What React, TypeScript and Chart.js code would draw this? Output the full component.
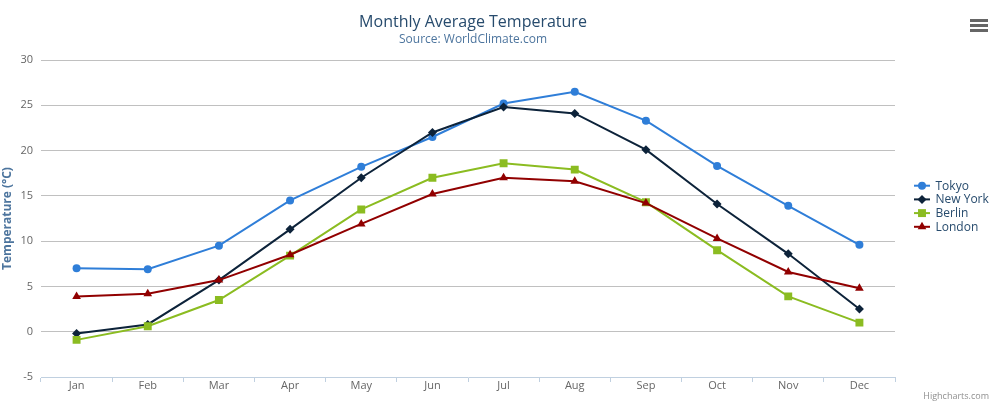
import React, { useEffect, useRef } from "react";
import { Chart, registerables } from "chart.js";

Chart.register(...registerables);

const categories = ["Jan", "Feb", "Mar", "Apr", "May", "Jun", "Jul", "Aug", "Sep", "Oct", "Nov", "Dec"];
const tokyo = [7.0, 6.9, 9.5, 14.5, 18.2, 21.5, 25.2, 26.5, 23.3, 18.3, 13.9, 9.6];
const newYork = [-0.2, 0.8, 5.7, 11.3, 17.0, 22.0, 24.8, 24.1, 20.1, 14.1, 8.6, 2.5];
const berlin = [-0.9, 0.6, 3.5, 8.4, 13.5, 17.0, 18.6, 17.9, 14.3, 9.0, 3.9, 1.0];
const london = [3.9, 4.2, 5.7, 8.5, 11.9, 15.2, 17.0, 16.6, 14.2, 10.3, 6.6, 4.8];
const seriesNames = ["Tokyo", "New York", "Berlin", "London"];
const seriesValues = [tokyo, newYork, berlin, london];
const seriesColors = ["#2f7ed8", "#0d233a", "#8bbc21", "#910000"];
const seriesMarkers = ["circle", "rectRot", "rect", "triangle"];
const markerRadii = [4, 4.5, 5.6, 5];
const yMin = -5;
const yMax = 30;
const yStep = 5;
const titleText = "Monthly Average Temperature";
const subtitleText = "Source: WorldClimate.com";
const yAxisTitle = "Temperature (°C)";
const creditsText = "Highcharts.com";

const FONT = '"Lucida Grande", "Lucida Sans Unicode", "Open Sans", Verdana, sans-serif';

function drawMarker(ctx: CanvasRenderingContext2D, style: string, x: number, y: number, r: number, color: string) {
  ctx.save();
  ctx.fillStyle = color;
  ctx.beginPath();
  if (style === "circle") {
    ctx.arc(x, y, r, 0, Math.PI * 2);
  } else if (style === "rectRot") {
    ctx.moveTo(x, y - r);
    ctx.lineTo(x + r, y);
    ctx.lineTo(x, y + r);
    ctx.lineTo(x - r, y);
    ctx.closePath();
  } else if (style === "rect") {
    const s = r * Math.SQRT1_2;
    ctx.rect(x - s, y - s, 2 * s, 2 * s);
  } else {
    const h = r;
    ctx.moveTo(x, y - h);
    ctx.lineTo(x + Math.sin(Math.PI * 2 / 3) * h, y + h / 2);
    ctx.lineTo(x - Math.sin(Math.PI * 2 / 3) * h, y + h / 2);
    ctx.closePath();
  }
  ctx.fill();
  ctx.restore();
}

const decorPlugin = {
  id: "decor",
  afterDraw(chart: any) {
    const ctx: CanvasRenderingContext2D = chart.ctx;
    ctx.save();
    // title & subtitle
    ctx.textAlign = "center";
    ctx.textBaseline = "middle";
    ctx.fillStyle = "#274b6d";
    ctx.font = `16px ${FONT}`;
    ctx.fillText(titleText, 473, 22);
    ctx.fillStyle = "#4d759e";
    ctx.font = `12px ${FONT}`;
    ctx.fillText(subtitleText, 473, 40);

    // legend
    ctx.textAlign = "left";
    ctx.font = `12px ${FONT}`;
    seriesNames.forEach((name, i) => {
      const y = 185.7 + i * 13.7;
      ctx.strokeStyle = seriesColors[i];
      ctx.lineWidth = 2;
      ctx.beginPath();
      ctx.moveTo(914, y);
      ctx.lineTo(930, y);
      ctx.stroke();
      drawMarker(ctx, seriesMarkers[i], 922, y, markerRadii[i], seriesColors[i]);
      ctx.fillStyle = "#274b6d";
      ctx.fillText(name, 935.5, y + 0.5);
    });

    // menu icon
    ctx.fillStyle = "#666666";
    [19, 24, 29].forEach((y) => ctx.fillRect(970, y, 18, 3));

    // credits
    ctx.textAlign = "right";
    ctx.textBaseline = "alphabetic";
    ctx.fillStyle = "#909090";
    ctx.font = `9px ${FONT}`;
    ctx.fillText(creditsText, 989, 398.5);
    ctx.restore();
  },
};

export default function App() {
  const ref = useRef<HTMLCanvasElement>(null);
  useEffect(() => {
    if (!ref.current) return;
    Chart.defaults.font.family = FONT;
    const chart = new Chart(ref.current, {
      type: "line",
      data: {
        labels: categories,
        datasets: seriesValues.map((vals, i) => ({
          label: seriesNames[i],
          data: vals,
          borderColor: seriesColors[i],
          backgroundColor: seriesColors[i],
          pointBackgroundColor: seriesColors[i],
          pointBorderWidth: 0,
          pointRadius: markerRadii[i],
          pointStyle: seriesMarkers[i] as any,
          borderWidth: 2,
          tension: 0,
          fill: false,
          order: 3 - i,
        })),
      },
      options: {
        responsive: false,
        animation: false,
        layout: { padding: { top: 60, right: 110, left: 0, bottom: 0 } },
        plugins: {
          legend: { display: false },
          title: { display: false },
          tooltip: { enabled: false },
        },
        scales: {
          x: {
            type: "category",
            offset: true,
            afterFit(scale: any) {
              scale.height = 42;
            },
            grid: {
              offset: true,
              drawOnChartArea: false,
              drawTicks: true,
              tickLength: 5,
              color: "#C0D0E0",
            },
            border: { color: "#C0D0E0", width: 1 },
            ticks: {
              color: "#666666",
              font: { size: 11, family: FONT },
              padding: -3,
              maxRotation: 0,
            },
          },
          y: {
            min: yMin,
            max: yMax,
            afterFit(scale: any) {
              scale.width = 41;
            },
            ticks: {
              stepSize: yStep,
              color: "#666666",
              font: { size: 11, family: FONT },
              padding: 8,
            },
            grid: {
              drawTicks: false,
              color: (c: any) => (c.tick && c.tick.value === yMin ? "rgba(0,0,0,0)" : "#C0C0C0"),
              lineWidth: 1,
            },
            border: { display: false },
            title: {
              display: true,
              text: yAxisTitle,
              color: "#4d759e",
              font: { size: 12, weight: "bold", family: FONT },
              padding: { top: 0, bottom: 0 },
            },
          },
        },
      },
      plugins: [decorPlugin],
    });
    return () => chart.destroy();
  }, []);
  return (
    <div style={{ position: "absolute", left: 0, top: 0, width: 1005, height: 419 }}>
      <canvas ref={ref} width={1005} height={419} style={{ display: "block" }} />
    </div>
  );
}
